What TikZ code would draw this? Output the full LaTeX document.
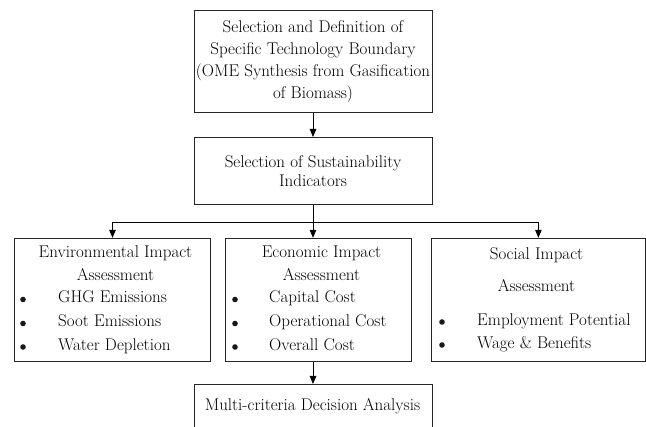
\documentclass[tikz,border=0pt]{standalone}
\usepackage{fontspec}
\usetikzlibrary{calc,arrows.meta}

\begin{document}
\begin{tikzpicture}[x=1pt,y=-1pt,
    box/.style={draw=black!85, line width=1pt, inner sep=0pt, align=center},
    txt/.style={inner sep=0pt, anchor=base},
    dot/.style={circle, fill=black!90, inner sep=0pt, minimum size=5.6pt},
    every node/.style={font=\fontsize{17}{22}\selectfont},
    >={Triangle[length=8pt,width=6.5pt]}]
  \useasboundingbox (0,0) rectangle (646,427);

  % boxes
  \node[box, minimum width=238pt, minimum height=102.7pt] (sel) at (313,61.4)
    {Selection and Definition of\\ Specific Technology Boundary\\
     (OME Synthesis from Gasification\\ of Biomass)};
  \node[box, minimum width=238pt, minimum height=67pt,
        font=\fontsize{17}{19}\selectfont] (ind) at (313,171)
    {Selection of Sustainability\\ Indicators};
  \node[box, minimum width=196.4pt, minimum height=122.7pt] (env) at (112.5,299.7) {};
  \node[box, minimum width=185.3pt, minimum height=122.7pt] (eco) at (318.4,299.7) {};
  \node[box, minimum width=213.3pt, minimum height=122.7pt] (soc) at (538.4,299.7) {};
  \node[box, minimum width=238pt, minimum height=70pt, anchor=north] (mcda) at (313,384) {};

  % environmental
  \node[txt] (env-h1) at (115.5,257.5) {Environmental Impact};
  \node[txt] (env-h2) at (115.5,280.5) {Assessment};
  \node[dot] (env-b1) at (23,299.5) {};
  \node[dot] (env-b2) at (23,323.5) {};
  \node[dot] (env-b3) at (23,347) {};
  \node[txt, anchor=base west] (env-i1) at (58,303) {GHG Emissions};
  \node[txt, anchor=base west] (env-i2) at (58,327) {Soot Emissions};
  \node[txt, anchor=base west] (env-i3) at (58,350.5) {Water Depletion};

  % economic
  \node[txt] (eco-h1) at (321.5,257.5) {Economic Impact};
  \node[txt] (eco-h2) at (321.5,280.5) {Assessment};
  \node[dot] (eco-b1) at (235,299.5) {};
  \node[dot] (eco-b2) at (235,323.5) {};
  \node[dot] (eco-b3) at (235,347) {};
  \node[txt, anchor=base west] (eco-i1) at (269,303) {Capital Cost};
  \node[txt, anchor=base west] (eco-i2) at (269,327) {Operational Cost};
  \node[txt, anchor=base west] (eco-i3) at (269,350.5) {Overall Cost};

  % social
  \node[txt] (soc-h1) at (536.5,259.5) {Social Impact};
  \node[txt] (soc-h2) at (536.5,291.5) {Assessment};
  \node[dot] (soc-b1) at (442,322) {};
  \node[dot] (soc-b2) at (442,345) {};
  \node[txt, anchor=base west] (soc-i1) at (477,325.5) {Employment Potential};
  \node[txt, anchor=base west] (soc-i2) at (477,348.5) {Wage \& Benefits};

  \node[txt] (mcda-t) at (312.5,410.5) {Multi-criteria Decision Analysis};

  % arrows
  \coordinate (split) at ($(ind.south)+(0,18)$);
  \draw[->, line width=1pt] (sel) -- (ind);
  \draw[line width=1pt] (ind.south) -- (split);
  \draw[->, line width=1pt] (split) -| (env.north);
  \draw[->, line width=1pt] (split) -| (soc.north);
  \draw[->, line width=1pt] (split) -- (split |- eco.north);
  \draw[->, line width=1pt] (mcda.north |- eco.south) -- (mcda.north);
\end{tikzpicture}
\end{document}
